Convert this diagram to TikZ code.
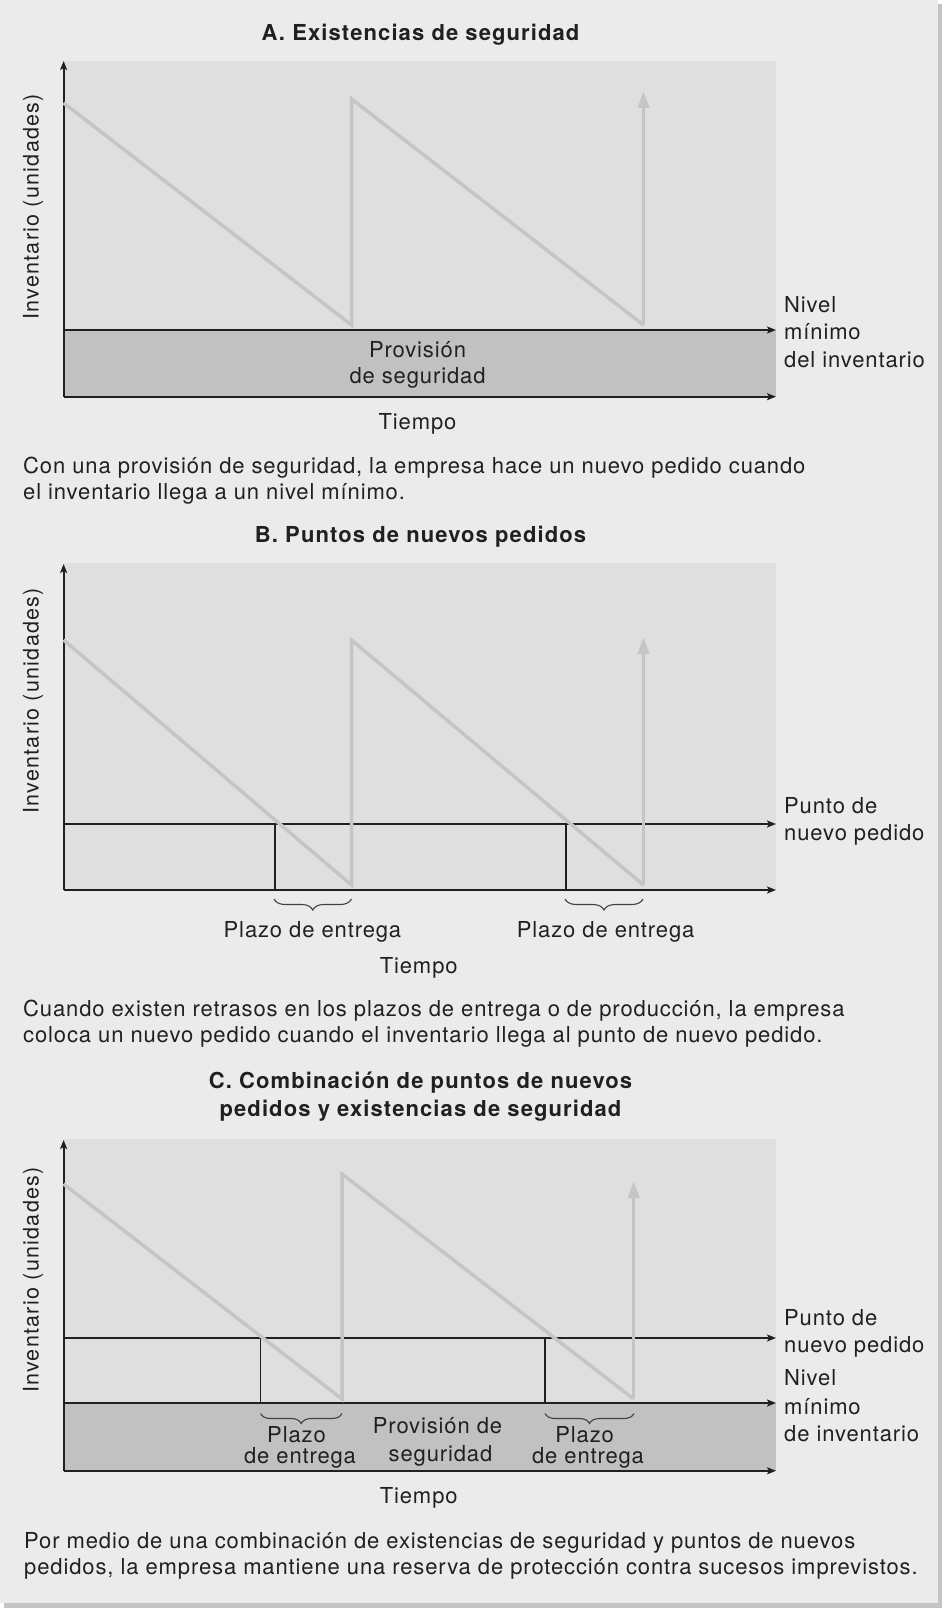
\documentclass[tikz,border=0pt]{standalone}
\usepackage{fontspec}
\setmainfont{TeX Gyre Heros}[LetterSpace=4]
\newfontfamily\ylabfont{TeX Gyre Heros}[LetterSpace=6]
\newfontfamily\ttlfont{TeX Gyre Heros}[LetterSpace=5]
\usetikzlibrary{arrows.meta,decorations.pathreplacing}
\definecolor{panel}{HTML}{EBEBEB}
\definecolor{plotbg}{HTML}{DFDFDF}
\definecolor{bandc}{HTML}{C1C1C2}
\definecolor{sawc}{HTML}{C5C5C5}
\definecolor{ink}{HTML}{231F20}
\definecolor{shadowc}{HTML}{C4C4C4}
\begin{document}
\begin{tikzpicture}[x=1pt,y=-1pt,
  txt/.style={font=\fontsize{22}{26}\selectfont, text=ink, inner sep=0pt, anchor=base},
  lbl/.style={txt, anchor=base west},
  ttl/.style={txt, font=\fontsize{22}{26}\selectfont\ttlfont\bfseries},
  ylab/.style={txt, font=\fontsize{21.5}{26}\selectfont\ylabfont, rotate=90, anchor=center},
  axisarrow/.style={draw=ink, line width=2pt, -{Stealth[length=9pt,width=7pt,inset=2pt]}},
  sawline/.style={draw=sawc, line width=3.5pt, line join=miter},
  sawarrow/.style={draw=sawc, line width=3.5pt, -{Triangle[length=17pt,width=11pt]}},
  leadline/.style={draw=ink, line width=1.2pt},
  brc/.style={draw=ink!85, line width=1.1pt, decorate, decoration={brace, mirror, amplitude=11pt}},
]
\useasboundingbox (0,0) rectangle (942,1608);
% panel with shadow
\fill[shadowc] (4,4) rectangle (942,1608);
\fill[panel] (0,0) rectangle (938,1603);

%%%%%%%% Chart A
\fill[plotbg] (63.6,61) rectangle (776,396.7);
\fill[bandc] (63.6,330) rectangle (776,396.7);
\coordinate (a0) at (63.6,396.7);
\coordinate (atop) at (63.6,61);
\coordinate (amin) at (63.6,330);
\coordinate (aminE) at (776,330);
\coordinate (abotE) at (776,396.7);
\draw[axisarrow] (a0) -- (atop);
\draw[axisarrow] (amin) -- (aminE);
\draw[axisarrow] (a0) -- (abotE);
\coordinate (as1) at (63.6,103);
\coordinate (as2) at (351.5,325);
\coordinate (as3) at (351.5,99);
\coordinate (as4) at (643.5,325);
\coordinate (as5) at (643.5,91);
\draw[sawline] (as1) -- (as2) -- (as3) -- (as4);
\draw[sawarrow] (as4) -- (as5);
\node[ttl] (atitle) at (420.5,40.5) {A. Existencias de seguridad};
\node[ylab] (aylab) at (33,206.7) {Inventario (unidades)};
\node[lbl] (an1) at (784,312.7) {Nivel};
\node[lbl] (an2) at (784,339.7) {mínimo};
\node[lbl] (an3) at (784,367) {del inventario};
\node[txt] (ap1) at (417.5,357) {Provisión};
\node[txt] (ap2) at (417.5,383.7) {de seguridad};
\node[txt] (atime) at (417.5,429.7) {Tiempo};
\node[lbl] (acap1) at (23,473) {Con una provisión de seguridad, la empresa hace un nuevo pedido cuando};
\node[lbl] (acap2) at (23,499) {el inventario llega a un nivel mínimo.};

%%%%%%%% Chart B
\fill[plotbg] (63.6,562.7) rectangle (776,890);
\coordinate (b0) at (63.6,890);
\coordinate (btop) at (63.6,564);
\coordinate (br) at (63.6,824);
\coordinate (brE) at (776,824);
\coordinate (bbotE) at (776,890);
\draw[axisarrow] (b0) -- (btop);
\draw[axisarrow] (br) -- (brE);
\draw[axisarrow] (b0) -- (bbotE);
\coordinate (bs1) at (63.6,640);
\coordinate (bs2) at (351.5,885);
\coordinate (bs3) at (351.5,640);
\coordinate (bs4) at (643.5,885);
\coordinate (bs5) at (643.5,637);
\coordinate (bv1t) at (275,824);
\coordinate (bv1b) at (275,890);
\coordinate (bv2t) at (566,824);
\coordinate (bv2b) at (566,890);
\draw[leadline] (bv1t) -- (bv1b);
\draw[leadline] (bv2t) -- (bv2b);
\draw[sawline] (bs1) -- (bs2) -- (bs3) -- (bs4);
\draw[sawarrow] (bs4) -- (bs5);
\coordinate (bb1l) at (274,899);
\coordinate (bb1r) at (351.5,899);
\coordinate (bb2l) at (565,899);
\coordinate (bb2r) at (643,899);
\draw[brc] (bb1l) -- (bb1r);
\draw[brc] (bb2l) -- (bb2r);
\node[ttl] (btitle) at (420.5,542) {B. Puntos de nuevos pedidos};
\node[ylab] (bylab) at (33,700.7) {Inventario (unidades)};
\node[lbl] (bn1) at (784,813.7) {Punto de};
\node[lbl] (bn2) at (784,840) {nuevo pedido};
\node[txt] (bl1) at (312.4,937) {Plazo de entrega};
\node[txt] (bl2) at (605.6,937) {Plazo de entrega};
\node[txt] (btime) at (418.7,973.7) {Tiempo};
\node[lbl] (bcap1) at (23,1016.6) {Cuando existen retrasos en los plazos de entrega o de producción, la empresa};
\node[lbl] (bcap2) at (23,1042) {coloca un nuevo pedido cuando el inventario llega al punto de nuevo pedido.};

%%%%%%%% Chart C
\fill[plotbg] (63.6,1138.5) rectangle (776,1470.8);
\fill[bandc] (63.6,1403) rectangle (776,1470.8);
\coordinate (c0) at (63.6,1470.8);
\coordinate (ctop) at (63.6,1140);
\coordinate (cr) at (63.6,1338);
\coordinate (crE) at (776,1338);
\coordinate (cm) at (63.6,1403);
\coordinate (cmE) at (776,1403);
\coordinate (cbotE) at (776,1470.8);
\draw[axisarrow] (c0) -- (ctop);
\draw[axisarrow] (cr) -- (crE);
\draw[axisarrow] (cm) -- (cmE);
\draw[axisarrow] (c0) -- (cbotE);
\coordinate (cs1) at (63.6,1184);
\coordinate (cs2) at (342,1399);
\coordinate (cs3) at (342,1174);
\coordinate (cs4) at (633.7,1399);
\coordinate (cs5) at (633.7,1181);
\coordinate (cv1t) at (260.5,1338);
\coordinate (cv1b) at (260.5,1403);
\coordinate (cv2t) at (545,1338);
\coordinate (cv2b) at (545,1403);
\draw[leadline] (cv1t) -- (cv1b);
\draw[leadline] (cv2t) -- (cv2b);
\draw[sawline] (cs1) -- (cs2) -- (cs3) -- (cs4);
\draw[sawarrow] (cs4) -- (cs5);
\coordinate (cb1l) at (260.5,1413.5);
\coordinate (cb1r) at (342,1413.5);
\coordinate (cb2l) at (545,1413.5);
\coordinate (cb2r) at (634,1413.5);
\draw[brc, decoration={amplitude=10pt}] (cb1l) -- (cb1r);
\draw[brc, decoration={amplitude=10pt}] (cb2l) -- (cb2r);
\node[ttl] (ctitle1) at (420.5,1088.7) {C. Combinación de puntos de nuevos};
\node[ttl] (ctitle2) at (420.5,1116) {pedidos y existencias de seguridad};
\node[ylab] (cylab) at (33,1280) {Inventario (unidades)};
\node[lbl] (cn1) at (784,1325) {Punto de};
\node[lbl] (cn2) at (784,1352) {nuevo pedido};
\node[lbl] (cn3) at (784,1385.8) {Nivel};
\node[lbl] (cn4) at (784,1414.8) {mínimo};
\node[lbl] (cn5) at (784,1441.7) {de inventario};
\node[txt] (cl1a) at (296.5,1442) {Plazo};
\node[txt] (cl1b) at (300,1463.7) {de entrega};
\node[txt] (cl2a) at (584.6,1442) {Plazo};
\node[txt] (cl2b) at (588,1463.7) {de entrega};
\node[txt] (cp1) at (437.5,1433.7) {Provisión de};
\node[txt] (cp2) at (440.5,1461) {seguridad};
\node[txt] (ctime) at (418.7,1503) {Tiempo};
\node[lbl] (ccap1) at (24,1548.6) {Por medio de una combinación de existencias de seguridad y puntos de nuevos};
\node[lbl] (ccap2) at (24,1574.5) {pedidos, la empresa mantiene una reserva de protección contra sucesos imprevistos.};
\end{tikzpicture}
\end{document}
